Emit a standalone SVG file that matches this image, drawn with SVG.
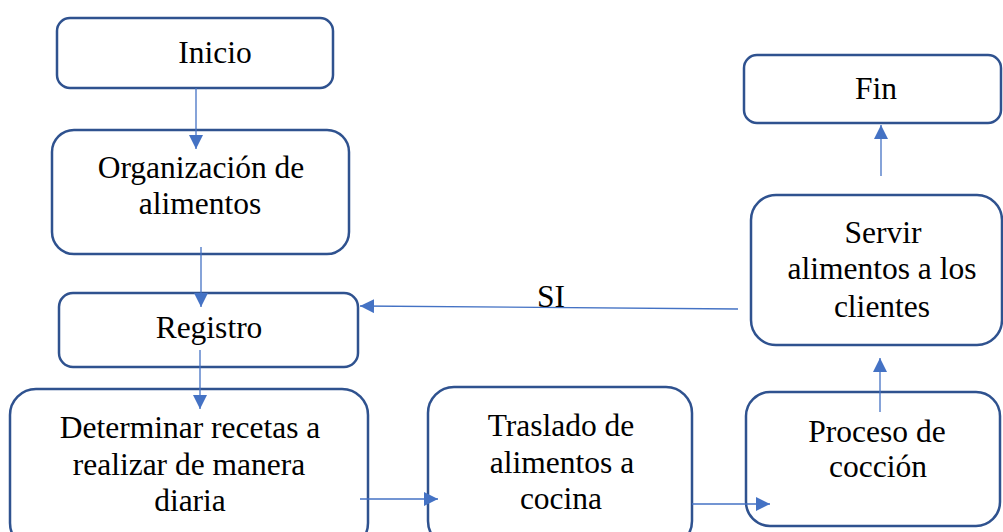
<svg xmlns="http://www.w3.org/2000/svg" width="1003" height="532" viewBox="0 0 1003 532">
<defs>
<marker id="ah" markerUnits="userSpaceOnUse" markerWidth="15" markerHeight="15" refX="14" refY="7" orient="auto">
<path d="M0,0 L14,7 L0,14 z" fill="#4472C4"/>
</marker>
<style>
.box{fill:#fff;stroke:#2F528F;stroke-width:2.5}
.t{font-family:"Liberation Serif","Times New Roman",serif;font-size:31.5px;fill:#000;text-anchor:middle}
.c{stroke:#4472C4;stroke-width:1.3;fill:none;marker-end:url(#ah)}
</style>
</defs>
<rect width="1003" height="532" fill="#fff"/>
<g id="inicio"><rect class="box" x="57" y="18" width="276" height="70" rx="13"/><text class="t" x="215" y="63">Inicio</text></g>
<g id="organizacion"><rect class="box" x="52" y="130" width="297" height="124" rx="22"/><text class="t" x="201" y="178">Organización de</text><text class="t" x="200" y="214">alimentos</text></g>
<g id="registro"><rect class="box" x="59" y="293" width="299" height="74" rx="14"/><text class="t" x="209" y="338">Registro</text></g>
<g id="determinar"><rect class="box" x="10" y="389" width="358" height="160" rx="26"/><text class="t" x="190" y="438">Determinar recetas a</text><text class="t" x="189" y="475">realizar de manera</text><text class="t" x="190" y="511">diaria</text></g>
<g id="traslado"><rect class="box" x="428" y="387" width="264" height="160" rx="26"/><text class="t" x="561" y="436">Traslado de</text><text class="t" x="562" y="473">alimentos a</text><text class="t" x="561" y="509">cocina</text></g>
<g id="proceso"><rect class="box" x="746" y="392" width="254" height="134" rx="24"/><text class="t" x="877" y="442">Proceso de</text><text class="t" x="878" y="477">cocción</text></g>
<g id="servir"><rect class="box" x="751" y="195" width="251" height="150" rx="25"/><text class="t" x="883" y="243">Servir</text><text class="t" x="882" y="279">alimentos a los</text><text class="t" x="882" y="317">clientes</text></g>
<g id="fin"><rect class="box" x="744" y="55" width="257" height="68" rx="13"/><text class="t" x="876" y="99">Fin</text></g>
<g id="connectors">
<path class="c" d="M196,88 L196,149"/>
<path class="c" d="M201,247 L201,307"/>
<path class="c" d="M200,350 L200,409"/>
<path class="c" d="M360,499 L438,499"/>
<path class="c" d="M692,504 L770,504"/>
<path class="c" d="M880,412 L880,358"/>
<path class="c" d="M881,176 L881,125"/>
<path class="c" d="M738,309 L360,306"/>
<text class="t" x="551" y="307">SI</text>
</g>
</svg>
